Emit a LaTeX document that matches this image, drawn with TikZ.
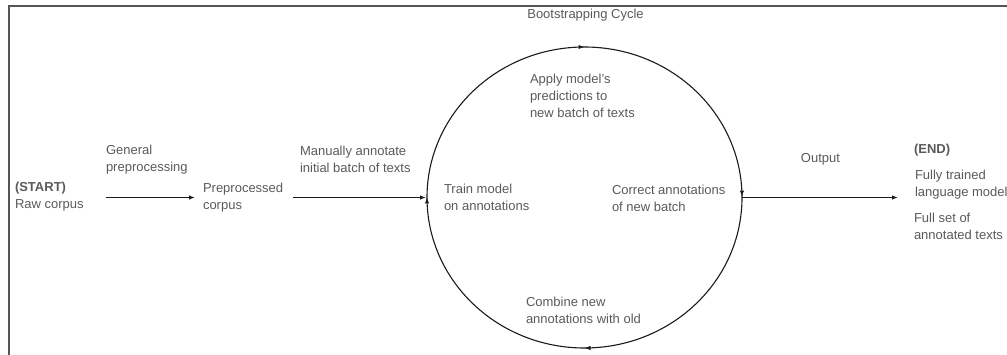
\documentclass[tikz,border=0pt]{standalone}
\usepackage{fontspec}
\setmainfont{Liberation Sans}
\usetikzlibrary{arrows.meta,shapes.geometric,decorations.markings}
\definecolor{txtgray}{HTML}{5A5A5A}
\definecolor{linegray}{HTML}{555555}
\definecolor{ink}{HTML}{1A1A1A}
\begin{document}
\begin{tikzpicture}[x=1pt,y=-1pt,
  txt/.style={inner sep=0pt, outer sep=0pt, align=left, text=txtgray,
    font=\fontsize{13pt}{17pt}\selectfont},
  conn/.style={draw=ink, line width=1.1pt, -{Latex[length=6pt,width=4.5pt]}},
  cyclepath/.style={draw=ink, line width=1.1pt, postaction={decorate},
    decoration={markings,
      mark=at position 0.25 with {\arrow{Latex[length=6pt,width=4.5pt]}},
      mark=at position 0.5 with {\arrow{Latex[length=6pt,width=4.5pt]}},
      mark=at position 0.75 with {\arrow{Latex[length=6pt,width=4.5pt]}},
      mark=at position 0.999 with {\arrow{Latex[length=6pt,width=4.5pt]}}}}]
\useasboundingbox (0,0) rectangle (1007,355);
% frame (cropped)
\draw[linegray, line width=2pt] (1007,6) -- (8.5,6) -- (8.5,355);

% cycle
\node[ellipse, draw=none, inner sep=0pt, outer sep=0pt,
  minimum width=315pt, minimum height=301pt] (cyc) at (584.5,197.5) {};
\draw[cyclepath] (cyc.center) ellipse [x radius=157.5, y radius=150.5];

% texts
\node[txt, anchor=west] (start) at (15,197) {\textbf{(START)}\\Raw corpus};
\node[txt, anchor=west] (genp) at (106,159.5) {General\\preprocessing};
\node[txt, anchor=west] (prep) at (203,197.5) {Preprocessed\\corpus};
\node[txt, anchor=west] (manual) at (300,159.5) {Manually annotate\\initial batch of texts};
\node[txt] (boot) at (585.5,15) {Bootstrapping Cycle};
\node[txt, anchor=west] (apply) at (530,96) {Apply model's\\predictions to\\new batch of texts};
\node[txt, anchor=west] (train) at (444,197) {Train model\\on annotations};
\node[txt, anchor=west] (correct) at (612,198.5) {Correct annotations\\of new batch};
\node[txt, anchor=west] (combine) at (526,310) {Combine new\\annotations with old};
\node[txt] (output) at (820.5,159) {Output};
\node[txt, anchor=west, font=\fontsize{13pt}{17pt}\selectfont\bfseries] (endt) at (914,150) {(END)};
\node[txt, anchor=west] (model) at (915,184.5) {Fully trained\\language model};
\node[txt, anchor=west] (fullset) at (914,226.5) {Full set of\\annotated texts};

% connectors
\draw[conn, shorten <=22pt, shorten >=8pt] (start.east |- cyc.west) -- (prep.west |- cyc.west);
\draw[conn, shorten <=10pt, shorten >=1pt] (prep.east |- cyc.west) -- (cyc.west);
\draw[conn, shorten >=17pt] (cyc.east) -- (cyc.east -| model.west);
\end{tikzpicture}
\end{document}
